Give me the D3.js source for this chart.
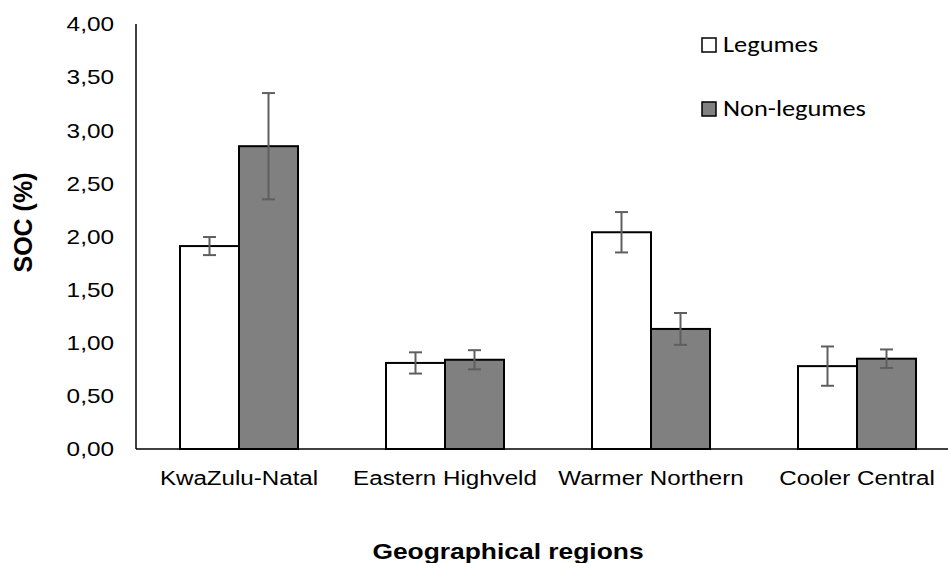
<!DOCTYPE html>
<html>
<head>
<meta charset="utf-8">
<script src="https://cdn.jsdelivr.net/npm/d3@7/dist/d3.min.js"></script>
<style>
  html, body { margin: 0; padding: 0; background: #fff; }
  svg { display: block; }
</style>
</head>
<body>
<svg id="chart" width="948" height="563"></svg>
<script>
// Soil organic carbon by region, legumes vs non-legumes
const regions = ["KwaZulu-Natal", "Eastern Highveld", "Warmer Northern", "Cooler Central"];
const seriesNames = ["Legumes", "Non-legumes"];
const legumes = [1.91, 0.81, 2.04, 0.78];
const nonLegumes = [2.85, 0.84, 1.13, 0.85];
const legumesErr = [0.085, 0.10, 0.19, 0.185];
const nonLegumesErr = [0.50, 0.09, 0.15, 0.087];
const yTicks = [0, 0.5, 1, 1.5, 2, 2.5, 3, 3.5, 4];

const seriesValues = [legumes, nonLegumes];
const seriesErrors = [legumesErr, nonLegumesErr];
const fills = ["#ffffff", "#808080"];

const svg = d3.select("#chart");
const plotLeft = 136, plotTop = 24, plotBottom = 449, plotRight = 960;
const sans = "Liberation Sans, Arial, sans-serif";

const y = d3.scaleLinear().domain([0, 4]).range([plotBottom, plotTop]);
const x0 = d3.scaleBand().domain(regions).range([plotLeft, plotRight]).paddingInner(0.4272).paddingOuter(0.2136);
const x1 = d3.scaleBand().domain(seriesNames).range([0, x0.bandwidth()]);

const fmt = v => d3.format(".2f")(v).replace(".", ",");

// y tick labels (slightly wide lettering)
svg.append("g")
  .selectAll("text")
  .data(yTicks)
  .join("text")
  .attr("transform", d => `translate(114,${y(d)}) scale(1.16,1)`)
  .attr("dy", "0.35em")
  .attr("text-anchor", "end")
  .attr("font-family", sans)
  .attr("font-size", 21)
  .attr("fill", "#000")
  .text(fmt);

// bars
const rows = regions.map((r, i) => seriesNames.map((s, j) => ({
  region: r, series: s, value: seriesValues[j][i], err: seriesErrors[j][i], j
})));

const groups = svg.append("g")
  .selectAll("g")
  .data(rows)
  .join("g")
  .attr("transform", (d, i) => `translate(${x0(regions[i])},0)`);

groups.selectAll("rect")
  .data(d => d)
  .join("rect")
  .attr("x", d => x1(d.series))
  .attr("y", d => y(d.value))
  .attr("width", x1.bandwidth())
  .attr("height", d => y(0) - y(d.value))
  .attr("fill", d => fills[d.j])
  .attr("stroke", "#000")
  .attr("stroke-width", 2);

// error bars
const eb = groups.selectAll("g.err")
  .data(d => d)
  .join("g")
  .attr("class", "err")
  .attr("stroke", "#5f5f5f")
  .attr("stroke-width", 2);
const cx = d => x1(d.series) + x1.bandwidth() / 2;
eb.append("line")
  .attr("x1", cx).attr("x2", cx)
  .attr("y1", d => y(d.value + d.err)).attr("y2", d => y(d.value - d.err));
eb.append("line")
  .attr("x1", d => cx(d) - 6.5).attr("x2", d => cx(d) + 6.5)
  .attr("y1", d => y(d.value + d.err)).attr("y2", d => y(d.value + d.err));
eb.append("line")
  .attr("x1", d => cx(d) - 6.5).attr("x2", d => cx(d) + 6.5)
  .attr("y1", d => y(d.value - d.err)).attr("y2", d => y(d.value - d.err));

// axis lines
svg.append("line")
  .attr("x1", plotLeft).attr("x2", plotLeft)
  .attr("y1", plotTop).attr("y2", plotBottom)
  .attr("stroke", "#000").attr("stroke-width", 1.5);
svg.append("line")
  .attr("x1", plotLeft).attr("x2", 948)
  .attr("y1", plotBottom).attr("y2", plotBottom)
  .attr("stroke", "#000").attr("stroke-width", 1.5);

// category labels
svg.append("g")
  .selectAll("text")
  .data(regions)
  .join("text")
  .attr("transform", d => `translate(${x0(d) + x0.bandwidth() / 2},485) scale(1.15,1)`)
  .attr("text-anchor", "middle")
  .attr("font-family", sans)
  .attr("font-size", 21)
  .attr("fill", "#000")
  .text(d => d);

// axis titles
svg.append("text")
  .attr("transform", "translate(508,559) scale(1.2,1)")
  .attr("text-anchor", "middle")
  .attr("font-family", sans)
  .attr("font-weight", "bold")
  .attr("font-size", 22)
  .text("Geographical regions");

svg.append("text")
  .attr("transform", "translate(32,222.5) rotate(-90)")
  .attr("text-anchor", "middle")
  .attr("font-family", sans)
  .attr("font-weight", "bold")
  .attr("font-size", 25)
  .text("SOC (%)");

// legend
const legend = svg.append("g")
  .selectAll("g")
  .data(seriesNames)
  .join("g")
  .attr("transform", (d, i) => `translate(702,${38 + i * 64})`);
legend.append("rect")
  .attr("width", 14).attr("height", 14)
  .attr("fill", (d, i) => fills[i])
  .attr("stroke", "#000").attr("stroke-width", 1.5);
legend.append("text")
  .attr("transform", "translate(21,14) scale(1.2,1)")
  .attr("font-family", "Carlito, Lato, 'Open Sans', sans-serif")
  .attr("font-size", 22)
  .attr("fill", "#000")
  .text(d => d);
</script>
</body>
</html>
